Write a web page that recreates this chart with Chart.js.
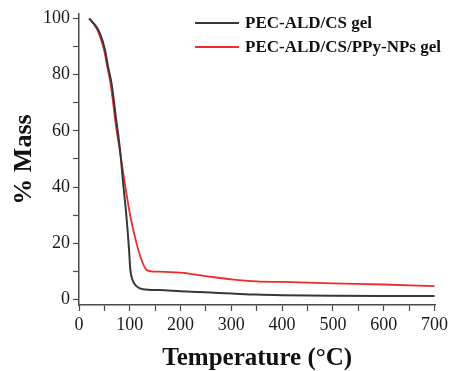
<!DOCTYPE html>
<html lang="en">
<head>
    <meta charset="UTF-8">
    <title>TGA</title>
    <script src="https://cdn.jsdelivr.net/npm/chart.js"></script>
    <style>
        html, body { margin: 0; padding: 0; background: #ffffff; }
        #chartContainer { width: 451px; height: 371px; position: relative; }
        canvas#tgaChart { display: block; }
    </style>
</head>
<body>

<div id="chartContainer">
    <canvas id="tgaChart" width="451" height="371"></canvas>
</div>

<script>
// TGA curves: temperature (°C) and remaining mass (%)
const gelLabel = 'PEC-ALD/CS gel';
const gelTemp = [20, 31, 41, 51, 57, 64, 68.5, 72.5, 77, 81.5, 86.8, 93.3, 98.5, 101, 105, 113, 126, 158, 200, 250, 300, 350, 400, 500, 600, 700];
const gelMass = [100, 97.8, 94.8, 89, 83, 77, 71, 65, 59, 52, 41.6, 29.7, 17.8, 10.7, 7.1, 4.7, 3.6, 3.3, 2.9, 2.5, 2.1, 1.7, 1.5, 1.3, 1.2, 1.2];

const ppyLabel = 'PEC-ALD/CS/PPy-NPs gel';
const ppyTemp = [20, 30, 39, 49, 55.5, 62, 66.5, 70.5, 75, 80, 90, 101, 113, 122.6, 132, 142, 158, 200, 250, 300, 350, 400, 500, 600, 700];
const ppyMass = [100, 97.8, 94.8, 89, 83, 77, 71, 65, 59, 53.5, 41.6, 29.7, 20.2, 14.3, 10.7, 10, 9.9, 9.5, 8.3, 7.1, 6.4, 6.2, 5.7, 5.3, 4.7];

// axis ticks (every tick gets a mark, only majors get a label)
const xTicks = [0, 50, 100, 150, 200, 250, 300, 350, 400, 450, 500, 550, 600, 650, 700];
const yTicks = [0, 10, 20, 30, 40, 50, 60, 70, 80, 90, 100];

const serif = '"Liberation Serif", "Times New Roman", serif';
const axisColor = '#4a4a4a';

function toPoints(xs, ys) {
    return xs.map((x, i) => ({x: x, y: ys[i]}));
}

// simple two-row legend in the top right corner
const legendPlugin = {
    id: 'cornerLegend',
    afterDraw(chart) {
        const ctx = chart.ctx;
        ctx.save();
        ctx.font = 'bold 17px ' + serif;
        ctx.textBaseline = 'middle';
        chart.data.datasets.forEach((ds, i) => {
            const y = 23 + i * 24;
            ctx.strokeStyle = ds.borderColor;
            ctx.lineWidth = ds.borderWidth;
            ctx.beginPath();
            ctx.moveTo(195, y);
            ctx.lineTo(239, y);
            ctx.stroke();
            ctx.fillStyle = '#111';
            ctx.fillText(ds.label, 245, y + 1);
        });
        ctx.restore();
    }
};

const ctx = document.getElementById('tgaChart').getContext('2d');

new Chart(ctx, {
    type: 'line',
    data: {
        datasets: [{
            label: gelLabel,
            data: toPoints(gelTemp, gelMass),
            borderColor: '#383838',
            borderWidth: 2,
            pointRadius: 0,
            fill: false,
            cubicInterpolationMode: 'monotone'
        }, {
            label: ppyLabel,
            data: toPoints(ppyTemp, ppyMass),
            borderColor: '#ef2b2b',
            borderWidth: 1.8,
            pointRadius: 0,
            fill: false,
            cubicInterpolationMode: 'monotone'
        }]
    },
    options: {
        responsive: false,
        animation: false,
        layout: {
            padding: { top: 14, right: 13, left: 0, bottom: 0 }
        },
        scales: {
            x: {
                type: 'linear',
                min: 0,
                max: 702,
                afterBuildTicks: scale => { scale.ticks = xTicks.map(v => ({value: v})); },
                afterFit: scale => { scale.height = 66; },
                grid: {
                    drawOnChartArea: false,
                    tickLength: 6,
                    tickWidth: 1.2,
                    tickColor: axisColor
                },
                border: { color: axisColor, width: 1.5 },
                ticks: {
                    autoSkip: false,
                    maxRotation: 0,
                    padding: 3,
                    color: '#1a1a1a',
                    font: { family: serif, size: 18 },
                    callback: v => (v % 100 === 0 ? v : '')
                },
                title: {
                    display: true,
                    text: 'Temperature (°C)',
                    color: '#111',
                    padding: 0,
                    font: { family: serif, size: 25, weight: 'bold', lineHeight: 1 }
                }
            },
            y: {
                min: -2,
                max: 101.6,
                afterBuildTicks: scale => { scale.ticks = yTicks.map(v => ({value: v})); },
                afterFit: scale => { scale.width = 79; },
                grid: {
                    drawOnChartArea: false,
                    tickLength: 6,
                    tickWidth: 1.2,
                    tickColor: axisColor
                },
                border: { color: axisColor, width: 1.5 },
                ticks: {
                    autoSkip: false,
                    padding: 3,
                    color: '#1a1a1a',
                    font: { family: serif, size: 18 },
                    callback: v => (v % 20 === 0 ? v : '')
                },
                title: {
                    display: true,
                    text: '% Mass',
                    color: '#111',
                    padding: { top: 11, bottom: 0 },
                    font: { family: serif, size: 26, weight: 'bold', lineHeight: 1 }
                }
            }
        },
        plugins: {
            legend: { display: false },
            tooltip: { enabled: false }
        }
    },
    plugins: [legendPlugin]
});
</script>

</body>
</html>
